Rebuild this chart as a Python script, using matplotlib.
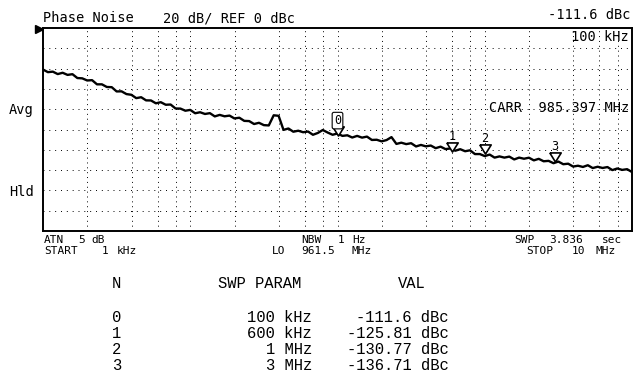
import numpy as np
import matplotlib
matplotlib.use("Agg")
import matplotlib.pyplot as plt
from matplotlib import transforms

# ---------------- data ----------------
start_hz = 1e3
stop_hz = 1e7
ref_dbc = 0
db_per_div = 20

# swept phase-noise trace (dBc/Hz), equally spaced in log f
trace_dbc = [
    -40.9, -43.5, -43.0, -45.4, -44.1, -46.2, -45.5, -49.3, -49.6, -51.7,
    -51.4, -55.5, -55.5, -58.1, -58.3, -62.5, -62.4, -65.1, -65.8, -69.1,
    -68.2, -71.3, -71.4, -74.2, -73.1, -75.6, -75.4, -79.3, -79.4, -81.5,
    -80.7, -84.0, -83.0, -84.7, -83.9, -87.1, -85.6, -87.0, -86.3, -89.1,
    -88.4, -91.5, -91.7, -94.6, -93.4, -95.7, -96.0, -86.0, -86.5, -100.4,
    -99.0, -102.2, -101.2, -102.7, -102.0, -105.2, -103.4, -100.5, -103.0, -105.2,
    -103.9, -106.3, -105.7, -107.9, -106.3, -108.0, -107.0, -110.3, -110.1, -111.7,
    -110.4, -107.5, -114.2, -113.0, -114.4, -113.5, -116.7, -115.2, -116.6, -115.8,
    -118.4, -116.9, -119.3, -118.7, -120.9, -119.4, -121.4, -120.5, -124.2, -124.2,
    -126.2, -124.7, -127.7, -126.5, -127.7, -126.7, -129.5, -127.7, -128.8, -127.8,
    -130.4, -128.9, -131.3, -130.9, -133.2, -131.6, -134.2, -133.7, -136.5, -135.7,
    -136.9, -135.2, -138.0, -136.7, -137.9, -137.0, -140.0, -138.4, -139.8, -139.1,
    -141.9,
]

# markers
marker_ids = ["0", "1", "2", "3"]
marker_freq_hz = [100e3, 600e3, 1e6, 3e6]
marker_trace_dbc = [-106.0, -121.5, -123.5, -131.5]   # where the triangles sit on screen
marker_param = ["100 kHz", "600 kHz", "1 MHz", "3 MHz"]
marker_val = ["-111.6 dBc", "-125.81 dBc", "-130.77 dBc", "-136.71 dBc"]

# grid positions (log frequency grid 2,4,6,8 x decade)
grid_mult = [2, 4, 6, 8, 10]
grid_decades = [1e3, 1e4, 1e5, 1e6]

# ---------------- figure ----------------
W, H = 640, 392
fig = plt.figure(figsize=(W / 100, H / 100), dpi=100)
fig.patch.set_facecolor("white")

def fx(x):
    return x / W

def fy(y):
    return 1 - y / H

L, R, T, B = 43, 632, 28, 231
ax = fig.add_axes([fx(L), fy(B), (R - L) / W, (B - T) / H])
ax.set_xscale("log")
ax.set_xlim(start_hz, stop_hz)
ax.set_ylim(ref_dbc - 10 * db_per_div, ref_dbc)
ax.set_xticks([])
ax.set_yticks([])
ax.minorticks_off()
for s in ax.spines.values():
    s.set_linewidth(1.4)
    s.set_color("black")

dot = (0, (1, 4))
for d in grid_decades:
    for m in grid_mult:
        f = d * m
        if f < stop_hz:
            ax.axvline(f, color="black", lw=0.7, linestyle=dot, zorder=1)
for k in range(1, 10):
    ax.axhline(ref_dbc - k * db_per_div, color="black", lw=0.7, linestyle=(0, (1, 5)), zorder=1)

freqs = np.logspace(np.log10(start_hz), np.log10(stop_hz), len(trace_dbc))
ax.plot(freqs, trace_dbc, color="black", lw=1.7, zorder=3)

tri = [(-1.25, 1), (1.25, 1), (0, -1), (-1.25, 1)]
tri_tr = transforms.offset_copy(ax.transData, fig=fig, x=0, y=4.5, units="dots")
for mid, f, v in zip(marker_ids, marker_freq_hz, marker_trace_dbc):
    ax.plot([f], [v], marker=tri, markersize=8.2, markerfacecolor="white",
            markeredgecolor="black", markeredgewidth=1.2, transform=tri_tr,
            zorder=4, clip_on=False)
    bbox = None
    if mid == "0":
        bbox = dict(boxstyle="round,pad=0.15", fc="white", ec="black", lw=0.8)
    ax.annotate(mid, (f, v), xytext=(0, 15), textcoords="offset pixels",
                ha="center", va="center", fontsize=8.5,
                family="DejaVu Sans Mono", bbox=bbox, zorder=5)

# reference-level arrow
fig.add_artist(plt.Line2D([fx(39)], [fy(29)], marker=">", markersize=5.5,
                          color="black", transform=fig.transFigure))

mono = dict(family="DejaVu Sans Mono", fontsize=9.8, color="black")
fig.text(fx(43), fy(18), "Phase Noise", ha="left", va="center", **mono)
fig.text(fx(163), fy(18), "20 dB/ REF 0 dBc", ha="left", va="center", **mono)
fig.text(fx(630), fy(15), "-111.6 dBc", ha="right", va="center", **mono)
fig.text(fx(629), fy(37), "100 kHz", ha="right", va="center", **mono)
fig.text(fx(629), fy(108), "CARR  985.397 MHz", ha="right", va="center", **mono)
fig.text(fx(9), fy(110), "Avg", ha="left", va="center", **mono)
fig.text(fx(9), fy(192), "Hld", ha="left", va="center", **mono)

# bottom annotation lines, placed word by word as on the instrument screen
small = dict(family="DejaVu Sans Mono", fontsize=8, color="black",
             va="center", ha="left")
row1 = [("ATN", 44), ("5", 78), ("dB", 91), ("NBW", 301), ("1", 338), ("Hz", 352),
        ("SWP", 514), ("3.836", 549), ("sec", 602)]
row2 = [("START", 44), ("1", 102), ("kHz", 117), ("LO", 272), ("961.5", 301), ("MHz", 352),
        ("STOP", 526), ("10", 572), ("MHz", 596)]
for txt, x in row1:
    fig.text(fx(x), fy(240.3), txt, **small)
for txt, x in row2:
    fig.text(fx(x), fy(250.8), txt, **small)

# marker table
tab = dict(family="Liberation Mono", fontsize=11.2, color="black")
fig.text(fx(112), fy(283), "N", ha="left", va="center", **tab)
fig.text(fx(218), fy(283), "SWP PARAM", ha="left", va="center", **tab)
fig.text(fx(398), fy(283), "VAL", ha="left", va="center", **tab)
row_y = [317, 333, 349, 365]
for mid, p, v, y in zip(marker_ids, marker_param, marker_val, row_y):
    fig.text(fx(112), fy(y), mid, ha="left", va="center", **tab)
    fig.text(fx(312), fy(y), p, ha="right", va="center", **tab)
    fig.text(fx(449), fy(y), v, ha="right", va="center", **tab)

fig.savefig("out.png", dpi=100, facecolor="white")
